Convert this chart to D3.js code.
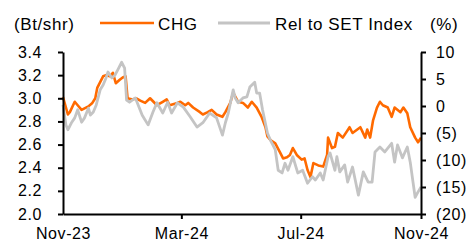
<!DOCTYPE html>
<html>
<head>
<meta charset="utf-8">
<script src="https://cdn.jsdelivr.net/npm/d3@7"></script>
<style>
  body { margin: 0; background: #fff; }
  svg text { font-family: "Liberation Sans", Arial, sans-serif; fill: #000; }
</style>
</head>
<body>
<div id="container"></div>
<script>
// CHG share price (Bt/shr)
let chgDates = ['2023-11-01','2023-11-06','2023-11-08','2023-11-13','2023-11-16','2023-11-20','2023-11-27','2023-12-01','2023-12-04','2023-12-06',
  '2023-12-09','2023-12-12','2023-12-15','2023-12-19','2023-12-22','2023-12-25','2023-12-29','2024-01-01','2024-01-04','2024-01-06',
  '2024-01-11','2024-01-15','2024-01-19','2024-01-24','2024-01-29','2024-02-05','2024-02-11','2024-02-15','2024-02-18','2024-02-26',
  '2024-02-29','2024-03-05','2024-03-08','2024-03-13','2024-03-20','2024-03-23','2024-03-28','2024-04-01','2024-04-06','2024-04-12',
  '2024-04-15','2024-04-20','2024-04-23','2024-04-28','2024-05-03','2024-05-08','2024-05-12','2024-05-17','2024-05-22','2024-05-26',
  '2024-05-28','2024-05-31','2024-06-05','2024-06-10','2024-06-13','2024-06-17','2024-06-20','2024-06-23','2024-06-27','2024-07-02',
  '2024-07-05','2024-07-08','2024-07-11','2024-07-14','2024-07-19','2024-07-24','2024-07-28','2024-07-29','2024-08-02','2024-08-05',
  '2024-08-08','2024-08-13','2024-08-20','2024-08-23','2024-08-31','2024-09-05','2024-09-07','2024-09-10','2024-09-13','2024-09-17',
  '2024-09-20','2024-09-23','2024-09-28','2024-10-02','2024-10-05','2024-10-11','2024-10-14','2024-10-18','2024-10-21','2024-10-26',
  '2024-10-29','2024-11-01'];
let chgValues = [3.01, 2.86, 2.88, 2.97, 2.94, 2.90, 2.93, 2.96, 3.00, 3.09,
  3.14, 3.19, 3.20, 3.19, 3.22, 3.13, 3.16, 3.18, 3.19, 3.00,
  2.99, 3.00, 2.98, 2.96, 3.00, 2.94, 2.97, 2.99, 2.94, 2.96,
  2.97, 2.94, 2.96, 2.92, 2.88, 2.86, 2.88, 2.90, 2.86, 2.84,
  2.88, 2.96, 3.05, 2.97, 2.96, 2.92, 2.97, 2.92, 2.84, 2.75,
  2.67, 2.64, 2.61, 2.53, 2.48, 2.49, 2.51, 2.57, 2.51, 2.47,
  2.48, 2.38, 2.32, 2.44, 2.42, 2.41, 2.51, 2.66, 2.57, 2.58,
  2.70, 2.66, 2.75, 2.70, 2.75, 2.66, 2.73, 2.66, 2.81, 2.92,
  2.97, 2.94, 2.92, 2.84, 2.92, 2.88, 2.92, 2.87, 2.75, 2.66,
  2.62, 2.66];

// relative to SET index (%), right axis
let relDates = ['2023-11-01','2023-11-04','2023-11-06','2023-11-10','2023-11-13','2023-11-16','2023-11-20','2023-11-23','2023-11-27','2023-11-29',
  '2023-12-02','2023-12-05','2023-12-09','2023-12-12','2023-12-15','2023-12-17','2023-12-21','2023-12-24','2023-12-27','2023-12-31',
  '2024-01-03','2024-01-05','2024-01-08','2024-01-14','2024-01-21','2024-01-27','2024-02-01','2024-02-05','2024-02-11','2024-02-16',
  '2024-02-20','2024-02-26','2024-03-03','2024-03-10','2024-03-17','2024-03-23','2024-03-30','2024-04-06','2024-04-12','2024-04-15',
  '2024-04-18','2024-04-23','2024-04-25','2024-04-28','2024-05-03','2024-05-07','2024-05-10','2024-05-15','2024-05-17','2024-05-20',
  '2024-05-23','2024-05-28','2024-05-31','2024-06-05','2024-06-08','2024-06-12','2024-06-15','2024-06-18','2024-06-23','2024-06-28',
  '2024-07-03','2024-07-08','2024-07-13','2024-07-16','2024-07-21','2024-07-24','2024-07-29','2024-07-31','2024-08-05','2024-08-07',
  '2024-08-10','2024-08-15','2024-08-18','2024-08-23','2024-08-29','2024-09-03','2024-09-08','2024-09-12','2024-09-15','2024-09-20',
  '2024-09-25','2024-10-02','2024-10-05','2024-10-08','2024-10-13','2024-10-18','2024-10-21','2024-10-24','2024-10-26','2024-10-29',
  '2024-11-01'];
let relValues = [0.2, -3.5, -4.4, -3.0, -2.2, -0.7, -3.0, -2.2, -0.4, -1.7,
  -1.1, 0.2, 3.0, 3.9, 5.2, 6.3, 5.2, 5.7, 6.7, 8.1,
  7.0, 1.1, 0.7, 1.5, -1.7, -3.5, -1.1, 0.6, -1.3, 0.7,
  -1.3, 0.6, -0.2, -2.0, -3.9, -3.1, -1.3, -2.2, -5.4, -3.1,
  -1.3, 3.0, 1.5, 0.6, 1.5, 1.7, 3.5, 4.4, 2.4, 2.4,
  -0.7, -5.0, -6.3, -8.1, -11.9, -12.4, -10.6, -11.9, -9.4, -12.4,
  -11.9, -14.3, -13.1, -13.7, -12.4, -13.7, -9.4, -8.7, -11.9, -9.4,
  -12.2, -10.9, -14.1, -11.3, -16.5, -12.2, -14.1, -14.1, -8.5, -7.6,
  -8.5, -6.9, -10.4, -7.2, -9.6, -7.6, -10.4, -14.3, -16.9, -15.9,
  -15.0];

let leftTicks = [2.0, 2.2, 2.4, 2.6, 2.8, 3.0, 3.2, 3.4];
let rightTicks = [-20, -15, -10, -5, 0, 5, 10];
let xTicks = ['2023-11-01', '2024-03-01', '2024-07-01', '2024-11-01'];

let width = 467;
let height = 241;
let plotLeft = 63, plotRight = 421, plotTop = 52, plotBottom = 214;
let parse = d3.timeParse('%Y-%m-%d');

let svg = d3.select('#container').append('svg')
  .attr('width', width).attr('height', height);

let xScale = d3.scaleTime()
  .domain([parse('2023-11-01'), parse('2024-11-01')])
  .range([plotLeft, plotRight]);
let yLeft = d3.scaleLinear().domain([2.0, 3.4]).range([plotBottom, plotTop]);
let yRight = d3.scaleLinear().domain([-20, 10]).range([plotBottom, plotTop]);

let chg = chgDates.map((d, i) => ({ date: parse(d), v: chgValues[i] }));
let rel = relDates.map((d, i) => ({ date: parse(d), v: relValues[i] }));

// lines
let chgLine = d3.line().x(d => xScale(d.date)).y(d => yLeft(d.v));
let relLine = d3.line().x(d => xScale(d.date)).y(d => yRight(d.v));

svg.append('path').datum(chg)
  .attr('fill', 'none').attr('stroke', '#ff6a00')
  .attr('stroke-width', 2.6).attr('stroke-linejoin', 'round')
  .attr('d', chgLine);
svg.append('path').datum(rel)
  .attr('fill', 'none').attr('stroke', '#c4c4c4')
  .attr('stroke-width', 2.8).attr('stroke-linejoin', 'round')
  .attr('d', relLine);

// axes
let fmtRight = v => v < 0 ? '(' + Math.abs(v) + ')' : '' + v;

let gLeft = svg.append('g').attr('transform', 'translate(' + plotLeft + ',0)')
  .call(d3.axisLeft(yLeft).tickValues(leftTicks).tickFormat(d3.format('.1f')).tickSize(5).tickSizeOuter(0).tickPadding(16));
let gRight = svg.append('g').attr('transform', 'translate(' + plotRight + ',0)')
  .call(d3.axisRight(yRight).tickValues(rightTicks).tickFormat(fmtRight).tickSize(5).tickSizeOuter(0).tickPadding(10));
let gBottom = svg.append('g').attr('transform', 'translate(0,' + plotBottom + ')')
  .call(d3.axisBottom(xScale).tickValues(xTicks.map(parse)).tickFormat(d3.timeFormat('%b-%y')).tickSize(5).tickSizeOuter(0).tickPadding(9));

[gLeft, gRight, gBottom].forEach(g => {
  g.select('.domain').attr('stroke', '#000').attr('stroke-width', 2);
  g.selectAll('.tick line').attr('stroke', '#000').attr('stroke-width', 2);
  g.selectAll('.tick text').attr('font-size', 16).attr('fill', '#000')
    .attr('letter-spacing', 0.6)
    .style('font-family', '"Liberation Sans", Arial, sans-serif');
});
gBottom.select('.tick line').attr('opacity', 0);

// titles and legend
let labelFont = 17;
svg.append('text').attr('x', 14).attr('y', 30).attr('font-size', labelFont).attr('letter-spacing', 0.6).text('(Bt/shr)');
svg.append('text').attr('x', 430).attr('y', 30).attr('font-size', labelFont).attr('letter-spacing', 0.6).text('(%)');

svg.append('line').attr('x1', 100).attr('x2', 154).attr('y1', 23).attr('y2', 23)
  .attr('stroke', '#ff6a00').attr('stroke-width', 2.6);
svg.append('text').attr('x', 158).attr('y', 30).attr('font-size', labelFont).attr('letter-spacing', 0.6).text('CHG');
svg.append('line').attr('x1', 218).attr('x2', 270).attr('y1', 23).attr('y2', 23)
  .attr('stroke', '#c4c4c4').attr('stroke-width', 2.8);
svg.append('text').attr('x', 275).attr('y', 30).attr('font-size', labelFont).attr('letter-spacing', 0.6).text('Rel to SET Index');
</script>
</body>
</html>
